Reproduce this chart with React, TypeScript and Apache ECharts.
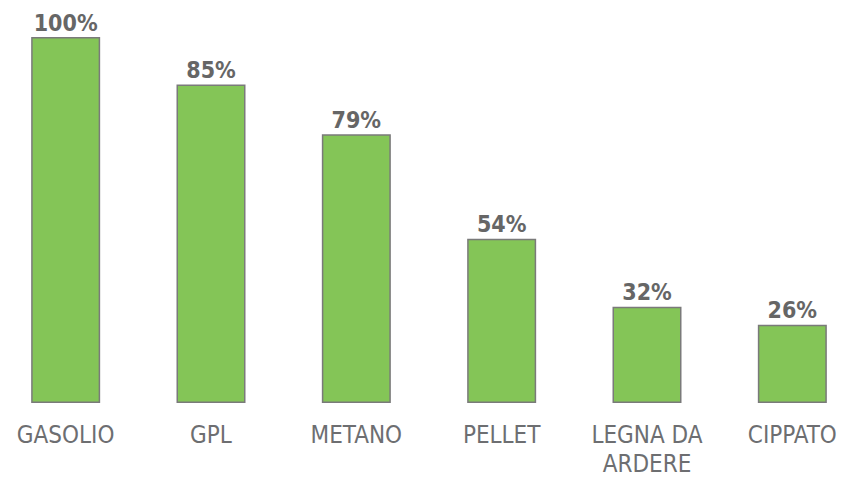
import React, { useEffect, useRef } from "react";
import * as echarts from "echarts";

// Fuel categories
const categories = ["GASOLIO", "GPL", "METANO", "PELLET", "LEGNA DA\nARDERE", "CIPPATO"];
// Printed percentage labels
const shares = [100, 85, 79, 54, 32, 26];
// Bar lengths as drawn in the picture (same % scale, 100 = tallest bar)
const barLengths = [100, 87, 73.4, 44.9, 26.3, 21.4];

const FONT = "'DejaVu Sans Condensed', 'Liberation Sans Narrow', sans-serif";

export default function App() {
  const ref = useRef<HTMLDivElement>(null);
  useEffect(() => {
    if (!ref.current) return;
    const chart = echarts.init(ref.current, null, { renderer: "svg" });
    chart.setOption({
      animation: false,
      backgroundColor: "#ffffff",
      grid: { left: 0, right: 0, top: 37, bottom: 72.5, containLabel: false },
      xAxis: {
        type: "category",
        data: categories,
        axisLine: { show: false },
        axisTick: { show: false },
        axisLabel: {
          interval: 0,
          margin: 17,
          color: "#6d6e71",
          fontFamily: FONT,
          fontSize: 24,
          lineHeight: 29,
        },
      },
      yAxis: {
        type: "value",
        min: 0,
        max: 100,
        show: false,
        splitLine: { show: false },
      },
      series: [
        {
          type: "bar",
          barWidth: 69,
          data: barLengths.map((v, i) => ({ value: v, share: shares[i] })),
          itemStyle: { color: "#84c557", borderColor: "#7a7a7a", borderWidth: 1.5 },
          label: {
            show: true,
            position: "top",
            distance: 3,
            formatter: (p: any) => shares[p.dataIndex] + "%",
            color: "#666666",
            fontFamily: FONT,
            fontWeight: "bold",
            fontSize: 23,
          },
        },
      ],
    });
    return () => chart.dispose();
  }, []);
  return (
    <div style={{ position: "fixed", left: 0, top: 0, width: 842, height: 478, overflow: "hidden", background: "#fff" }}>
      <div
        ref={ref}
        style={{ position: "absolute", left: -7, top: 0, width: 872, height: 478 }}
      />
    </div>
  );
}
